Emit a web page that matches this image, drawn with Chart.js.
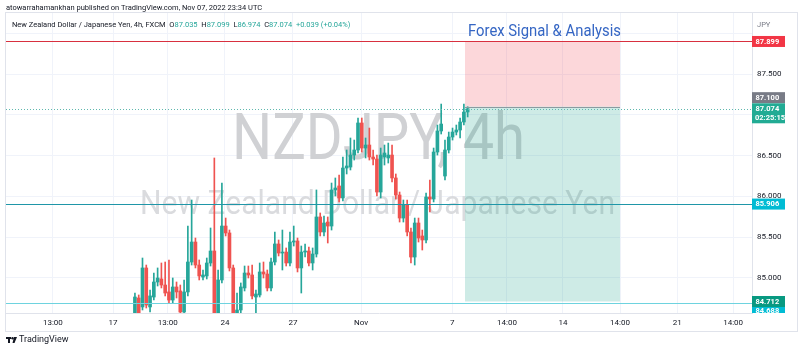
<!DOCTYPE html>
<html>
<head>
<meta charset="utf-8">
<script src="https://cdn.jsdelivr.net/npm/chart.js@4"></script>
<style>
  html, body { margin: 0; padding: 0; background: #fff; }
  #wrap { width: 800px; height: 353px; position: relative; }
</style>
</head>
<body>
<div id="wrap"><canvas id="chart"></canvas></div>
<script>
// NZDJPY 4h candles (bar 0 = first visible candle)
const OPEN = [84.510, 84.755, 84.645, 85.123, 84.645, 84.767, 84.951, 84.988, 84.914, 84.829,
  84.730, 84.890, 84.841, 84.583, 84.829, 85.196, 85.441, 85.159, 85.012, 85.025,
  85.184, 85.331, 84.510, 84.976, 85.637, 85.552, 85.123, 84.510, 84.608, 84.878,
  85.061, 85.037, 84.767, 84.792, 85.074, 85.049, 84.878, 85.196, 85.417, 85.306,
  85.318, 85.184, 85.441, 85.454, 85.123, 85.318, 85.331, 85.184, 85.294, 85.748,
  85.564, 85.686, 85.637, 86.079, 86.128, 85.981, 86.348, 86.360, 86.507, 86.569,
  86.900, 86.593, 86.630, 86.483, 86.458, 86.054, 86.483, 86.471, 86.507, 86.226,
  86.017, 85.735, 85.895, 85.564, 85.257, 85.674, 85.515, 85.466, 85.993, 85.968,
  86.544, 86.802, 86.250, 86.569, 86.728, 86.789, 86.814, 86.912, 87.035]
const HIGH = [84.816, 84.792, 85.245, 85.159, 84.853, 85.061, 85.123, 85.184, 85.196, 85.221,
  85.000, 84.951, 84.914, 84.976, 85.637, 85.956, 85.490, 85.221, 85.098, 85.245,
  85.613, 86.471, 85.098, 86.164, 85.735, 85.588, 85.159, 84.816, 84.939, 85.147,
  85.147, 85.159, 84.853, 85.184, 85.196, 85.098, 85.245, 85.564, 85.466, 85.588,
  85.368, 85.564, 85.637, 85.490, 85.392, 85.417, 85.380, 85.368, 86.079, 85.797,
  85.760, 85.748, 86.164, 86.226, 86.262, 86.483, 86.569, 86.716, 86.691, 86.961,
  86.961, 86.716, 86.838, 86.569, 86.507, 86.593, 86.630, 86.654, 86.630, 86.275,
  86.054, 85.956, 85.956, 85.613, 85.735, 85.735, 85.588, 86.042, 86.201, 86.593,
  86.875, 87.132, 86.691, 86.789, 86.838, 86.875, 86.961, 87.132, 87.099]
const LOW = [84.485, 84.485, 84.608, 84.632, 84.583, 84.730, 84.902, 84.878, 84.780, 84.694,
  84.694, 84.755, 84.534, 84.534, 84.780, 85.159, 85.123, 84.976, 84.976, 84.988,
  85.147, 84.485, 84.485, 84.939, 85.515, 85.086, 84.461, 84.461, 84.559, 84.841,
  85.000, 84.743, 84.571, 84.767, 85.000, 84.841, 84.841, 85.159, 85.270, 85.098,
  85.147, 85.147, 85.392, 85.074, 84.816, 85.257, 85.147, 85.098, 85.257, 85.515,
  85.515, 85.429, 85.588, 86.005, 85.932, 85.944, 86.275, 86.324, 86.446, 86.532,
  86.544, 86.471, 86.446, 86.385, 86.005, 85.981, 86.385, 86.409, 86.177, 85.968,
  85.686, 85.686, 85.515, 85.184, 85.159, 85.441, 85.343, 85.429, 85.809, 85.932,
  86.507, 86.765, 86.201, 86.532, 86.691, 86.753, 86.716, 86.875, 86.974]
const CLOSE = [84.767, 84.547, 85.123, 84.669, 84.780, 84.951, 85.000, 84.914, 84.816, 84.730,
  84.890, 84.829, 84.583, 84.829, 85.196, 85.441, 85.159, 85.025, 85.037, 85.184,
  85.331, 84.510, 84.976, 85.637, 85.552, 85.123, 84.510, 84.608, 84.890, 85.061,
  85.037, 84.780, 84.804, 85.074, 85.049, 84.878, 85.196, 85.417, 85.306, 85.318,
  85.184, 85.441, 85.454, 85.123, 85.318, 85.331, 85.184, 85.294, 85.748, 85.564,
  85.674, 85.637, 86.079, 86.103, 85.981, 86.348, 86.373, 86.507, 86.569, 86.900,
  86.593, 86.630, 86.483, 86.458, 86.054, 86.507, 86.532, 86.507, 86.226, 86.017,
  85.735, 85.895, 85.564, 85.257, 85.674, 85.490, 85.466, 85.993, 85.968, 86.544,
  86.802, 86.887, 86.569, 86.728, 86.789, 86.814, 86.912, 87.034, 87.074]

// Time axis: positions in bar units, with their labels
const TIME_TICKS = [-21.7, -5.8, 8.7, 23.8, 41.8, 59.8, 83.9, 98.4, 113.2, 128.3, 143.4, 158.2]
const TIME_LABELS = ["13:00", "17", "13:00", "24", "27", "Nov", "7", "14:00", "14", "14:00", "21", "14:00"]
const PRICE_TICKS = [85.0, 85.5, 86.0, 86.5, 87.0, 87.5, 88.0]
const X_RANGE = [-34.1, 163.2]
const Y_RANGE = [84.571, 88.248]

// Drawings
const STOP_PRICE = 87.899
const ENTRY_PRICE = 87.100
const TARGET_PRICE = 84.712
const LAST_PRICE = 87.074
const LEVEL_PRICE = 85.906
const LOW_LEVEL_PRICE = 84.688
const POSITION_BARS = [87.3, 128.3]

const UP = "#26a69a"
const DOWN = "#ef5350"
const GRID = "#f0f3fa"
const BORDER = "#e0e3eb"
const TEXT = "#131722"
const FONT = 'Roboto, "Liberation Sans", sans-serif'

const bars = OPEN.map((_, i) => i)
const candleColors = OPEN.map((o, i) => (CLOSE[i] >= o ? UP : DOWN))

// Squeeze text horizontally so it spans a given width (narrow TradingView font)
function fitText(ctx, text, x, y, width) {
  const w = ctx.measureText(text).width
  ctx.save()
  ctx.translate(x, y)
  ctx.scale(width / w, 1)
  ctx.fillText(text, 0, 0)
  ctx.restore()
}

function priceBox(ctx, chart, price, color, label, dy, extra) {
  const y = chart.scales.y.getPixelForValue(price) + (dy || 0)
  const x = chart.chartArea.right
  const h = extra ? 20 : 11
  const top = extra ? y - 5.5 : y - h / 2
  ctx.fillStyle = color
  ctx.fillRect(x, top, 33, h)
  ctx.fillStyle = "#fff"
  ctx.font = "bold 7.5px " + FONT
  ctx.textAlign = "left"
  ctx.textBaseline = "middle"
  ctx.fillText(label, x + 3.5, top + 5.7)
  if (extra) ctx.fillText(extra, x + 3, top + 14.5)
}

const drawings = {
  id: "tvDrawings",
  beforeDatasetsDraw(chart) {
    const { ctx, chartArea: a, scales } = chart
    ctx.save()
    ctx.beginPath()
    ctx.rect(a.left, a.top, a.right - a.left, a.bottom - a.top)
    ctx.clip()
    // watermark
    ctx.textAlign = "left"
    ctx.textBaseline = "alphabetic"
    ctx.fillStyle = "#d0d1d4"
    ctx.font = "64px " + FONT
    fitText(ctx, "NZDJPY, 4h", 232, 159, 293)
    ctx.fillStyle = "#dadbde"
    ctx.font = "34px " + FONT
    fitText(ctx, "New Zealand Dollar / Japanese Yen", 140, 214, 475)
    // long position zones
    const x0 = scales.x.getPixelForValue(POSITION_BARS[0])
    const x1 = scales.x.getPixelForValue(POSITION_BARS[1])
    const yStop = scales.y.getPixelForValue(STOP_PRICE)
    const yEntry = scales.y.getPixelForValue(ENTRY_PRICE)
    const yTarget = scales.y.getPixelForValue(TARGET_PRICE)
    ctx.fillStyle = "rgba(242,54,69,0.2)"
    ctx.fillRect(x0, yStop, x1 - x0, yEntry - yStop)
    ctx.fillStyle = "rgba(8,153,129,0.2)"
    ctx.fillRect(x0, yEntry, x1 - x0, yTarget - yEntry)
    ctx.restore()
  },
  afterDatasetsDraw(chart) {
    const { ctx, chartArea: a, scales } = chart
    const hline = (price, color, dash) => {
      const y = Math.round(scales.y.getPixelForValue(price)) + 0.5
      ctx.strokeStyle = color
      ctx.setLineDash(dash || [])
      ctx.beginPath()
      ctx.moveTo(a.left, y)
      ctx.lineTo(a.right, y)
      ctx.stroke()
    }
    ctx.save()
    ctx.beginPath()
    ctx.rect(a.left, a.top, a.right - a.left, a.bottom - a.top)
    ctx.clip()
    ctx.lineWidth = 1
    hline(LAST_PRICE, "#5fb8ae", [1, 2])
    hline(STOP_PRICE, "#d8303f")
    hline(LEVEL_PRICE, "#1f96a8")
    hline(LOW_LEVEL_PRICE, "#6ed3df")
    // entry line of the position tool
    const x0 = scales.x.getPixelForValue(POSITION_BARS[0])
    const x1 = scales.x.getPixelForValue(POSITION_BARS[1])
    const yE = Math.round(scales.y.getPixelForValue(ENTRY_PRICE)) + 0.5
    ctx.setLineDash([])
    ctx.strokeStyle = "#8c9aa0"
    ctx.beginPath()
    ctx.moveTo(x0, yE)
    ctx.lineTo(x1, yE)
    ctx.stroke()
    // title
    ctx.fillStyle = "#3566c4"
    ctx.font = "16px " + FONT
    ctx.textBaseline = "alphabetic"
    ctx.textAlign = "left"
    fitText(ctx, "Forex Signal & Analysis", 468, 36, 153)
    ctx.restore()
  },
  afterDraw(chart) {
    const { ctx, chartArea: a } = chart
    ctx.save()
    // price labels on the axis
    priceBox(ctx, chart, STOP_PRICE, "#f23645", "87.899")
    priceBox(ctx, chart, ENTRY_PRICE, "#787b86", "87.100", -9)
    priceBox(ctx, chart, LAST_PRICE, "#22ab94", "87.074", 0, "02:25:15")
    priceBox(ctx, chart, LEVEL_PRICE, "#00bcd4", "85.906")
    ctx.save()
    ctx.beginPath()
    ctx.rect(a.right, a.top, 45, a.bottom - a.top)
    ctx.clip()
    priceBox(ctx, chart, LOW_LEVEL_PRICE, "#00bcd4", "84.688", 7)
    priceBox(ctx, chart, TARGET_PRICE, "#089981", "84.712", 0)
    ctx.restore()

    ctx.textBaseline = "middle"
    ctx.textAlign = "left"
    ctx.font = "7.5px " + FONT
    ctx.fillStyle = "#787b86"
    ctx.fillText("JPY", a.right + 5, 25)

    // header inside the panel
    let x = 12
    const part = (t, c) => {
      ctx.fillStyle = c
      ctx.fillText(t, x, 25)
      x += ctx.measureText(t).width
    }
    part("New Zealand Dollar / Japanese Yen, 4h, FXCM  ", TEXT)
    part("O", TEXT); part("87.035  ", UP)
    part("H", TEXT); part("87.099  ", UP)
    part("L", TEXT); part("86.974  ", UP)
    part("C", TEXT); part("87.074  ", UP)
    part("+0.039 (+0.04%)", UP)

    // publisher line
    ctx.fillStyle = TEXT
    ctx.fillText("atowarrahamankhan published on TradingView.com, Nov 07, 2022 23:34 UTC", 6, 8)

    // panel frame
    ctx.strokeStyle = BORDER
    ctx.lineWidth = 1
    ctx.strokeRect(5.5, 12.5, 792, 319)

    // TradingView logo
    ctx.fillStyle = TEXT
    ctx.fillRect(6, 337, 5, 2)
    ctx.fillRect(8, 337, 2, 6)
    ctx.beginPath()
    ctx.arc(12.5, 338.3, 1.2, 0, Math.PI * 2)
    ctx.fill()
    ctx.beginPath()
    ctx.moveTo(14, 337); ctx.lineTo(17, 337); ctx.lineTo(14.5, 343); ctx.lineTo(12.5, 343)
    ctx.fill()
    ctx.font = "9px " + FONT
    ctx.fillText("TradingView", 19, 340)
    ctx.restore()
  }
}

new Chart(document.getElementById("chart"), {
  type: "bar",
  plugins: [drawings],
  data: {
    datasets: [
      {
        label: "wick",
        data: bars.map((b, i) => ({ x: b, y: [LOW[i], HIGH[i]] })),
        backgroundColor: candleColors,
        barThickness: 1,
        grouped: false,
        borderWidth: 0,
        order: 2
      },
      {
        label: "body",
        data: bars.map((b, i) => ({ x: b, y: [OPEN[i], CLOSE[i]] })),
        backgroundColor: candleColors,
        barThickness: 3,
        minBarLength: 1,
        grouped: false,
        borderWidth: 0,
        order: 1
      }
    ]
  },
  options: {
    responsive: true,
    maintainAspectRatio: false,
    animation: false,
    events: [],
    layout: { padding: { left: 6, top: 13, right: 3, bottom: 22 } },
    plugins: { legend: { display: false }, tooltip: { enabled: false } },
    scales: {
      x: {
        type: "linear",
        min: X_RANGE[0],
        max: X_RANGE[1],
        offset: false,
        afterFit: (axis) => { axis.height = 18 },
        afterBuildTicks: (axis) => { axis.ticks = TIME_TICKS.map((v) => ({ value: v })) },
        grid: { color: GRID, drawTicks: false, offset: false },
        border: { color: BORDER },
        ticks: {
          autoSkip: false,
          maxRotation: 0,
          padding: 5,
          color: TEXT,
          font: { family: FONT, size: 8 },
          callback: (v, i) => TIME_LABELS[i]
        }
      },
      y: {
        position: "right",
        min: Y_RANGE[0],
        max: Y_RANGE[1],
        afterFit: (axis) => { axis.width = 45 },
        afterBuildTicks: (axis) => { axis.ticks = PRICE_TICKS.map((v) => ({ value: v })) },
        grid: { color: GRID, drawTicks: false },
        border: { color: BORDER },
        ticks: {
          padding: 5,
          color: TEXT,
          font: { family: FONT, size: 8 },
          callback: (v) => (v >= 88 ? "" : v.toFixed(3))
        }
      }
    }
  }
})
</script>
</body>
</html>
